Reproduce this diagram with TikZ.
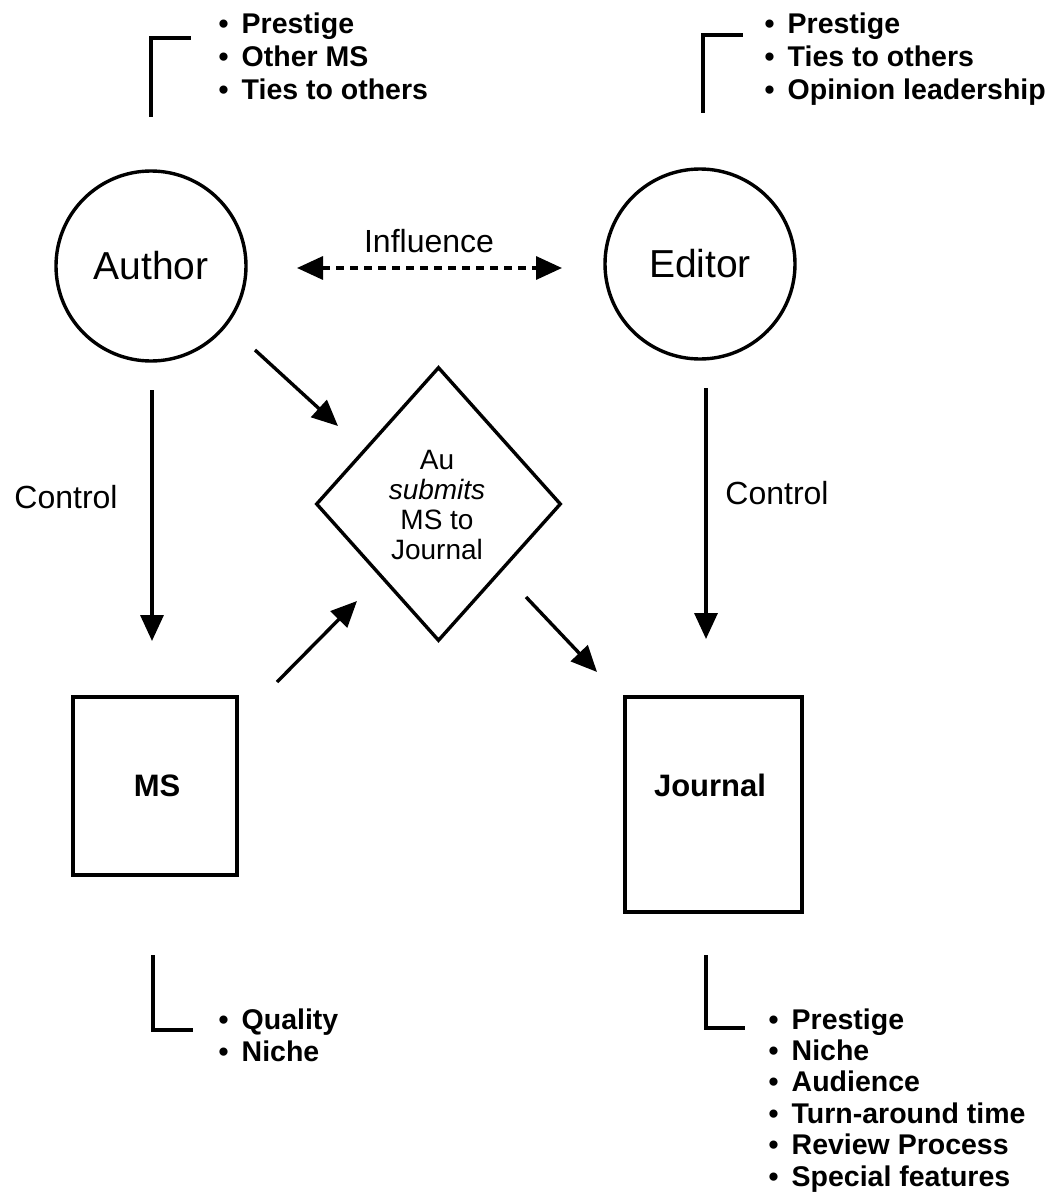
\documentclass[tikz,border=0pt]{standalone}
\usepackage{fontspec}
\setmainfont{Liberation Sans}
\usetikzlibrary{arrows.meta,shapes.geometric}
\begin{document}
\begin{tikzpicture}[x=1pt,y=-1pt,
  line width=3.4pt,
  tip/.style={-{Triangle[length=26pt,width=23pt]}},
  biarrow/.style={{Triangle[length=26pt,width=23pt]}-{Triangle[length=26pt,width=23pt]}},
  actor/.style={circle,draw,minimum size=190pt,inner sep=0pt,font=\fontsize{39}{43}\selectfont},
  docbox/.style={draw,inner sep=0pt},
  boxtext/.style={font=\fontsize{31}{35}\selectfont\bfseries},
  lbl/.style={font=\fontsize{32}{36}\selectfont},
  item/.style={anchor=base west,inner sep=0pt,font=\fontsize{28.5}{30}\selectfont\bfseries},
  bracket/.style={line width=3.4pt}]
\useasboundingbox (0,0) rectangle (1053,1196);

% actors
\node[actor] (author) at (151,266) {Author};
\node[actor] (editor) at (700,264) {Editor};

% documents
\node[docbox,minimum width=164pt,minimum height=178pt] (ms) at (155,786) {};
\node[boxtext] (mstxt) at (157,786) {MS};
\node[docbox,minimum width=177pt,minimum height=215pt] (journal) at (713.5,804.5) {};
\node[boxtext] (jtxt) at (710,785) {Journal};

% decision
\node[draw,diamond,aspect=0.89,minimum width=245pt,minimum height=274pt,inner sep=0pt] (sub) at (438.5,504) {};
\node[align=center,font=\fontsize{28}{30}\selectfont] (subtxt) at (437,505)
  {Au\\\textit{submits}\\MS to\\Journal};

% labels
\node[lbl] (infl) at (429,241) {Influence};
\node[lbl] (ctl1) at (66,497) {Control};
\node[lbl] (ctl2) at (777,493) {Control};

% connector end points
\coordinate (i1) at (297,268);
\coordinate (i2) at (562,268);
\coordinate (a1) at (152,390);
\coordinate (a2) at (152,641);
\coordinate (e1) at (706,388);
\coordinate (e2) at (706,639);
\coordinate (d1) at (255,350);
\coordinate (d2) at (338,426);
\coordinate (m1) at (277,682);
\coordinate (m2) at (357,601);
\coordinate (j1) at (526,597);
\coordinate (j2) at (597,672);

\draw[biarrow,dash pattern=on 8pt off 6pt] (i1) -- (i2);
\draw[tip] (a1) -- (a2);
\draw[tip] (e1) -- (e2);
\draw[tip] (d1) -- (d2);
\draw[tip] (m1) -- (m2);
\draw[tip] (j1) -- (j2);

% attribute brackets
\draw[bracket] (151,117) -- (151,38) -- (191,38);
\draw[bracket] (703,113) -- (703,35) -- (743,35);
\draw[bracket] (153,955) -- (153,1030) -- (193,1030);
\draw[bracket] (706,955) -- (706,1028) -- (745,1028);

% attribute lists
\node[item] (ta1) at (217,34) {•\hspace{13pt}Prestige};
\node[item] (ta2) at (217,67) {•\hspace{13pt}Other MS};
\node[item] (ta3) at (217,100) {•\hspace{13pt}Ties to others};

\node[item] (te1) at (763,34) {•\hspace{13pt}Prestige};
\node[item] (te2) at (763,67) {•\hspace{13pt}Ties to others};
\node[item] (te3) at (763,100) {•\hspace{13pt}Opinion leadership};

\node[item] (bm1) at (217,1029) {•\hspace{13pt}Quality};
\node[item] (bm2) at (217,1061) {•\hspace{13pt}Niche};

\node[item] (bj1) at (767,1029) {•\hspace{13pt}Prestige};
\node[item] (bj2) at (767,1060.4) {•\hspace{13pt}Niche};
\node[item] (bj3) at (767,1091.8) {•\hspace{13pt}Audience};
\node[item] (bj4) at (767,1123.2) {•\hspace{13pt}Turn-around time};
\node[item] (bj5) at (767,1154.6) {•\hspace{13pt}Review Process};
\node[item] (bj6) at (767,1186) {•\hspace{13pt}Special features};
\end{tikzpicture}
\end{document}
